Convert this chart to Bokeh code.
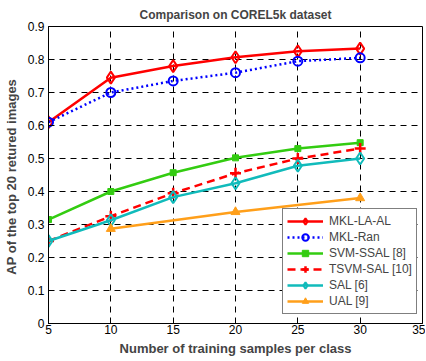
from bokeh.plotting import figure
from bokeh.models import Range1d, FixedTicker, Legend, LegendItem
from bokeh.embed import file_html
from bokeh.resources import INLINE

x = [5, 10, 15, 20, 25, 30]
mkl_la_al = [0.61, 0.745, 0.780, 0.807, 0.825, 0.833]
mkl_ran = [0.61, 0.700, 0.735, 0.760, 0.795, 0.805]
svm_ssal = [0.315, 0.400, 0.457, 0.502, 0.530, 0.548]
tsvm_sal = [0.250, 0.325, 0.395, 0.455, 0.500, 0.530]
sal = [0.250, 0.313, 0.383, 0.425, 0.478, 0.500]
x_ual = [10, 20, 30]
ual = [0.287, 0.338, 0.380]

xticks = [5, 10, 15, 20, 25, 30, 35]
yticks = [0, 0.1, 0.2, 0.3, 0.4, 0.5, 0.6, 0.7, 0.8, 0.9]

FONT = "Liberation Sans"

p = figure(frame_width=374, frame_height=297, output_backend="svg", toolbar_location=None,
           x_range=Range1d(5, 35), y_range=Range1d(0, 0.9),
           min_border_left=40, min_border_right=3, min_border_top=19, min_border_bottom=30)

p.title.text = "Comparison on COREL5k dataset"
p.title.align = "center"
p.title.text_font = FONT
p.title.text_font_size = "12px"
p.title.text_font_style = "bold"
p.title.offset = 0

p.outline_line_color = "black"
p.outline_line_width = 1

for ax in (p.xaxis[0], p.yaxis[0]):
    ax.major_label_text_font = FONT
    ax.major_label_text_font_size = "12px"
    ax.major_label_text_color = "black"
    ax.axis_label_text_font = FONT
    ax.axis_label_text_font_size = "13px"
    ax.axis_label_text_font_style = "bold"
    ax.major_tick_in = 5
    ax.major_tick_out = 0
    ax.minor_tick_line_color = None
    ax.axis_line_color = "black"
    ax.major_tick_line_color = "black"

p.xaxis[0].ticker = FixedTicker(ticks=xticks)
p.yaxis[0].ticker = FixedTicker(ticks=yticks)
p.yaxis[0].major_label_overrides = {0: "0"}
p.xaxis[0].axis_label = "Number of training samples per class"
p.yaxis[0].axis_label = "AP of the  top 20 retured images"
p.xaxis[0].axis_label_standoff = 4
p.yaxis[0].axis_label_standoff = 6
p.xaxis[0].major_label_standoff = 1
p.yaxis[0].major_label_standoff = 4

p.xgrid.ticker = FixedTicker(ticks=xticks)
p.ygrid.ticker = FixedTicker(ticks=yticks)
for g in (p.xgrid[0], p.ygrid[0]):
    g.grid_line_color = "black"
    g.grid_line_dash = "6 5"
    g.grid_line_width = 1

RED = "#ff0000"
BLUE = "#0000ff"
GREEN = "#33cc11"
CYAN = "#11bbbb"
ORANGE = "#ff9f1a"

items = []
l1 = p.line(x, mkl_la_al, line_color=RED, line_width=2.5)
m1 = p.scatter(x, mkl_la_al, marker="diamond", size=12, line_color=RED, line_width=2, fill_color=None)
items.append(LegendItem(label="MKL-LA-AL", renderers=[l1, m1]))

l2 = p.line(x, mkl_ran, line_color=BLUE, line_width=2.5, line_dash="2 3")
m2 = p.scatter(x, mkl_ran, marker="circle", size=9, line_color=BLUE, line_width=2, fill_color=None)
items.append(LegendItem(label="MKL-Ran", renderers=[l2, m2]))

l3 = p.line(x, svm_ssal, line_color=GREEN, line_width=2.5)
m3 = p.scatter(x, svm_ssal, marker="square", size=6, line_color=GREEN, fill_color=GREEN)
items.append(LegendItem(label="SVM-SSAL [8]", renderers=[l3, m3]))

l4 = p.line(x, tsvm_sal, line_color=RED, line_width=2.5, line_dash="8 5")
m4 = p.scatter(x, tsvm_sal, marker="cross", size=11, line_color=RED, line_width=2.5)
items.append(LegendItem(label="TSVM-SAL [10]", renderers=[l4, m4]))

l5 = p.line(x, sal, line_color=CYAN, line_width=2.5)
m5 = p.scatter(x, sal, marker="diamond", size=12, line_color=CYAN, line_width=2, fill_color=None)
items.append(LegendItem(label="SAL [6]", renderers=[l5, m5]))

l6 = p.line(x_ual, ual, line_color=ORANGE, line_width=2.5)
m6 = p.scatter(x_ual, ual, marker="triangle", size=9, line_color=ORANGE, fill_color=ORANGE)
items.append(LegendItem(label="UAL [9]", renderers=[l6, m6]))

legend = Legend(items=items, location=(234, 9))
legend.margin = 0
legend.padding = 4
legend.spacing = 0
legend.glyph_width = 36
legend.glyph_height = 16
legend.label_height = 16
legend.label_standoff = 6
legend.label_text_font = FONT
legend.label_text_font_size = "12px"
legend.border_line_color = "black"
legend.border_line_width = 1.5
legend.background_fill_color = "white"
legend.background_fill_alpha = 1
p.add_layout(legend, "center")

open("out.html", "w").write(file_html(p, INLINE))
